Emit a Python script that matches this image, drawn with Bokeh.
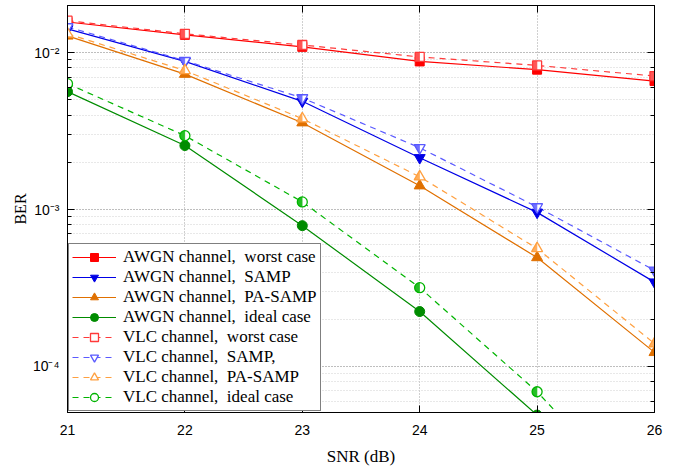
import math
from bokeh.plotting import figure
from bokeh.models import (LogAxis, LinearAxis, Legend, LegendItem, SingleIntervalTicker,
                          CustomJSTickFormatter, Range1d, LogTicker)
from bokeh.embed import file_html
from bokeh.resources import INLINE

# ---------------- data ----------------
snr = [21, 22, 23, 24, 25, 26]
x_ticks = [21, 22, 23, 24, 25, 26]

awgn_worst = [1.57e-2, 1.30e-2, 1.09e-2, 8.8e-3, 7.8e-3, 6.6e-3]
awgn_samp = [1.42e-2, 8.8e-3, 4.9e-3, 2.14e-3, 9.6e-4, 3.45e-4]
awgn_pa = [1.28e-2, 7.3e-3, 3.58e-3, 1.42e-3, 4.95e-4, 1.23e-4]
awgn_ideal = [5.65e-3, 2.56e-3, 7.9e-4, 2.24e-4, 4.9e-5, 1.0e-5]

vlc_worst = [1.60e-2, 1.32e-2, 1.12e-2, 9.4e-3, 8.3e-3, 7.1e-3]
vlc_samp = [1.46e-2, 8.9e-3, 5.15e-3, 2.48e-3, 1.04e-3, 4.1e-4]
vlc_pa = [1.32e-2, 7.7e-3, 3.8e-3, 1.62e-3, 5.65e-4, 1.4e-4]
vlc_ideal = [6.35e-3, 2.96e-3, 1.12e-3, 3.18e-4, 6.9e-5, 1.1e-5]

labels = [
    "AWGN channel,\u00a0 worst case",
    "AWGN channel,\u00a0 SAMP",
    "AWGN channel,\u00a0 PA-SAMP",
    "AWGN channel,\u00a0 ideal case",
    "VLC channel,\u00a0 worst case",
    "VLC channel,\u00a0 SAMP,",
    "VLC channel,\u00a0 PA-SAMP",
    "VLC channel,\u00a0 ideal case",
]

# ---------------- layout ----------------
X0, X1 = 21, 26
Y0, Y1 = 5.09e-5, 2.0e-2
FW, FH = 587, 407
PPX = FW / (X1 - X0)
PPD = FH / (math.log10(Y1) - math.log10(Y0))

SERIF = "Liberation Serif"
SANS = "Liberation Sans"

p = figure(x_range=Range1d(X0, X1), y_range=Range1d(Y0, Y1), y_axis_type="log",
           frame_width=FW, frame_height=FH, output_backend="svg", toolbar_location=None,
           min_border_left=67, min_border_right=12, min_border_top=5, min_border_bottom=46,
           background_fill_color="white", border_fill_color="white")
p.outline_line_color = "black"
p.outline_line_width = 1

# grids
p.xgrid.ticker = SingleIntervalTicker(interval=1, num_minor_ticks=0)
p.xgrid.grid_line_color = "#a0a0a0"
p.xgrid.grid_line_dash = "1 2"
p.ygrid.grid_line_color = "#a0a0a0"
p.ygrid.grid_line_dash = "1 2"
p.ygrid.minor_grid_line_color = "#d0d0d0"
p.ygrid.minor_grid_line_dash = "1 2"

sup_js = """
const sup = {"-": "\\u207B", "0": "\\u2070", "1": "\\u00B9", "2": "\\u00B2", "3": "\\u00B3",
             "4": "\\u2074", "5": "\\u2075", "6": "\\u2076", "7": "\\u2077", "8": "\\u2078", "9": "\\u2079"};
const e = Math.round(Math.log10(tick));
return "10" + String(e).split("").map(c => sup[c]).join("");
"""

def style_axis(ax):
    ax.axis_line_color = "black"
    ax.axis_line_width = 1
    ax.major_tick_line_color = "black"
    ax.minor_tick_line_color = "black"
    ax.major_tick_in = 7
    ax.major_tick_out = 0
    ax.minor_tick_in = 4
    ax.minor_tick_out = 0
    ax.major_label_text_color = "black"
    ax.major_label_text_font = SANS
    ax.major_label_text_font_size = "14px"
    ax.axis_label_text_font = SERIF
    ax.axis_label_text_font_style = "normal"
    ax.axis_label_text_color = "black"

xa = p.xaxis[0]
xa.ticker = SingleIntervalTicker(interval=1, num_minor_ticks=0)
style_axis(xa)
xa.major_label_standoff = 12
xa.axis_label = "SNR (dB)"
xa.axis_label_text_font_size = "17px"
xa.axis_label_standoff = 9

ya = p.yaxis[0]
style_axis(ya)
ya.formatter = CustomJSTickFormatter(code=sup_js)
ya.major_label_standoff = 8
ya.axis_label = "BER"
ya.axis_label_text_font_size = "16px"
ya.axis_label_standoff = 1

top = LinearAxis(ticker=SingleIntervalTicker(interval=1, num_minor_ticks=0))
style_axis(top)
top.major_label_text_font_size = "1px"
top.major_label_text_alpha = 0
top.major_label_standoff = 0
p.add_layout(top, "above")

right = LogAxis(ticker=LogTicker())
style_axis(right)
right.major_label_text_font_size = "1px"
right.major_label_text_alpha = 0
right.major_label_standoff = 0
p.add_layout(right, "right")

# ---------------- series ----------------
RED_S, RED_D = "#FF0000", "#FF3a3a"
BLUE_S, BLUE_D = "#0000E6", "#5A5AFF"
ORANGE_S, ORANGE_D = "#E07000", "#FFA040"
GREEN_S, GREEN_D = "#008C00", "#00B400"

series = [
    (awgn_worst, RED_S, False, "square", 9),
    (awgn_samp, BLUE_S, False, "inverted_triangle", 11),
    (awgn_pa, ORANGE_S, False, "triangle", 11),
    (awgn_ideal, GREEN_S, False, "circle", 10),
    (vlc_worst, RED_D, True, "square", 9),
    (vlc_samp, BLUE_D, True, "inverted_triangle", 11),
    (vlc_pa, ORANGE_D, True, "triangle", 11),
    (vlc_ideal, GREEN_D, True, "circle", 10),
]


def extent(marker, u, r):
    """vertical extent (canvas px, down positive) of the marker at horizontal offset u"""
    if marker == "square":
        return -r, r
    if marker == "circle":
        d = math.sqrt(max(r * r - u * u, 0.0))
        return -d, d
    h = r * math.sqrt(3)
    a = h / 3.0
    frac = 1.0 - abs(u) / r
    if marker == "triangle":
        return a - h * frac, a
    return -a, -a + h * frac


def half_fill_columns(marker, xv, yv, s):
    """left-half fill of a marker as thin vertical strokes: centres and lengths"""
    r = s / 2.0
    n = int(math.ceil(r * 2))
    w = r / n
    xs, ys, ls = [], [], []
    for k in range(n):
        u = -(k + 0.5) * w
        t, b = extent(marker, u, r)
        xs.append(xv + u / PPX)
        ys.append(yv * 10 ** (-((t + b) / 2.0) / PPD))
        ls.append(max(b - t, 0.1))
    return xs, ys, ls, w


line_r = []
for vals, col, dashed, mk, sz in series:
    lr = p.line(snr, vals, line_color=col, line_width=1.2,
                line_dash="6 5" if dashed else "solid")
    line_r.append(lr)

items = []
for i, (vals, col, dashed, mk, sz) in enumerate(series):
    if not dashed:
        sr = p.scatter(snr, vals, marker=mk, size=sz, fill_color=col, line_color=col, line_width=1)
        items.append(LegendItem(label=labels[i], renderers=[line_r[i], sr]))
    else:
        base = p.scatter(snr, vals, marker=mk, size=sz, fill_color="white", line_color=col, line_width=1.3)
        cx, cy, cl = [], [], []
        wcol = 1.0
        for xv, yv in zip(snr, vals):
            a, b, c, wcol = half_fill_columns(mk, xv, yv, sz)
            cx += a
            cy += b
            cl += c
        p.scatter(x=cx, y=cy, size=cl, marker="dash", angle=math.pi / 2,
                  line_color=col, line_width=wcol + 0.2, line_cap="butt")
        items.append(LegendItem(label=labels[i], renderers=[line_r[i], base]))

legend = Legend(items=items, location="bottom_left", margin=1, padding=3, spacing=0,
                label_height=20, glyph_height=20, glyph_width=44, label_standoff=7,
                label_text_font=SERIF, label_text_font_size="17px", label_text_color="black",
                border_line_color="black", border_line_width=1, background_fill_color="white",
                background_fill_alpha=1.0)
p.add_layout(legend)

with open("out.html", "w", encoding="utf-8") as fh:
    fh.write(file_html(p, INLINE))
